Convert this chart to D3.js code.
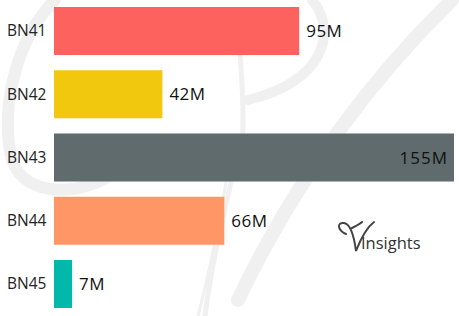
<!DOCTYPE html>
<html><head><meta charset="utf-8">
<script src="https://cdn.jsdelivr.net/npm/d3@7"></script>
<style>body{margin:0;background:#fff}svg{display:block}</style>
</head><body>
<svg id="c" width="459" height="316"></svg>
<script>
const categories = ["BN41","BN42","BN43","BN44","BN45"];
const values = [95, 42, 155, 66, 7];
const valueLabels = ["95M","42M","155M","66M","7M"];
const colors = ["#FD625E","#F2C80F","#5F6B6D","#FE9666","#01B8AA"];

const svg = d3.select("#c");
const font = "'Open Sans', 'Noto Sans', sans-serif";

// faint watermark
const wm = svg.append("g").attr("fill","none").attr("stroke","#f0f0f0").attr("stroke-linecap","round");
wm.append("path").attr("d","M55,0 C15,40 0,110 12,160 C25,200 85,195 115,172").attr("stroke-width",12);
wm.append("path").attr("d","M312,0 C338,30 325,82 248,100").attr("stroke-width",10);
wm.append("path").attr("d","M240,55 C243,90 244,120 242,150").attr("stroke-width",5);
wm.append("path").attr("d","M452,0 C380,70 300,170 238,300").attr("stroke-width",14);
wm.append("path").attr("d","M236,160 C225,210 212,260 205,316").attr("stroke-width",5);
wm.append("path").attr("d","M228,170 C220,220 210,270 198,316").attr("stroke-width",3);

const x = d3.scaleLinear().domain([0,155]).range([54,454]);
const y = d3.scaleBand().domain(categories).range([7,308]).paddingInner(0.241).paddingOuter(0);

svg.append("g").selectAll("rect").data(categories).join("rect")
  .attr("x", x(0)).attr("y", d=>y(d)).attr("height", y.bandwidth())
  .attr("width",(d,i)=>x(values[i])-x(0)).attr("fill",(d,i)=>colors[i]);

svg.append("g").selectAll("text").data(categories).join("text")
  .attr("x",7).attr("y",d=>y(d)+y.bandwidth()/2).attr("dy","0.35em")
  .attr("font-family",font).attr("font-size",15.5).attr("fill","#252423").text(d=>d);

svg.append("g").selectAll("text").data(categories).join("text")
  .attr("x",(d,i)=> i===2 ? x(values[i])-6 : x(values[i])+7)
  .attr("text-anchor",(d,i)=> i===2 ? "end" : "start")
  .attr("y",d=>y(d)+y.bandwidth()/2).attr("dy","0.36em")
  .attr("font-family",font).attr("font-size",17).attr("letter-spacing",(d,i)=>i===2?"1px":"0.5px")
  .attr("fill","#111").text((d,i)=>valueLabels[i]);

// logo
const lg = svg.append("g");
lg.append("path").attr("fill","none").attr("stroke","#444").attr("stroke-width",2).attr("stroke-linecap","round")
  .attr("d","M346,234 C337,230 337,222 344,223 C351,224 354,236 356,251 C361,238 366,228 374,222 M352,228 C356,226 360,224 362,222");
lg.append("text").attr("x",361).attr("y",249).attr("font-family",font).attr("font-size",16.5)
  .attr("fill","#333").text("Insights");
</script>
</body></html>
